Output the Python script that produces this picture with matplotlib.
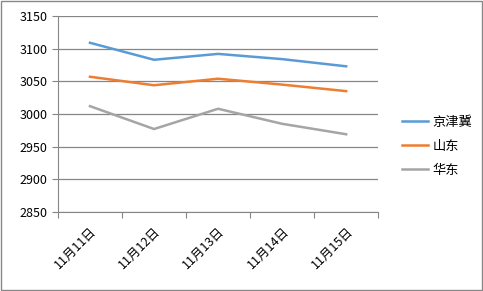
import matplotlib.pyplot as plt
from matplotlib.ticker import FixedLocator

plt.rcParams['font.family'] = ['Noto Sans CJK SC', 'DejaVu Sans']

dates = ["11月11日", "11月12日", "11月13日", "11月14日", "11月15日"]
jjj = [3109, 3083, 3092, 3084, 3073]
shandong = [3057, 3044, 3054, 3045, 3035]
huadong = [3012, 2977, 3008, 2985, 2969]
series_names = ["京津冀", "山东", "华东"]
colors = ["#5B9BD5", "#ED7D31", "#A5A5A5"]

fig = plt.figure(figsize=(4.83, 2.91), dpi=100)
ax = fig.add_axes([0.120, 0.2715, 0.663, 0.6735])

x = range(len(dates))
for vals, name, c in zip([jjj, shandong, huadong], series_names, colors):
    ax.plot(x, vals, color=c, lw=1.8, label=name)

ax.set_xlim(-0.5, len(dates) - 0.5)
ax.set_ylim(2850, 3150)
ax.set_yticks(range(2850, 3151, 50))
ax.yaxis.grid(True, color="#868686", lw=0.9)
ax.set_axisbelow(True)

# category boundaries as major ticks, labels on minor ticks at centers
ax.xaxis.set_major_locator(FixedLocator([i - 0.5 for i in range(len(dates) + 1)]))
ax.xaxis.set_major_formatter(plt.NullFormatter())
ax.xaxis.set_minor_locator(FixedLocator(list(x)))
ax.set_xticklabels(dates, minor=True, rotation=45, ha="right", rotation_mode="anchor", fontsize=9)
ax.tick_params(axis="x", which="major", length=4, color="#868686")
ax.tick_params(axis="x", which="minor", length=0, pad=9)
ax.tick_params(axis="y", length=4, color="#868686", labelsize=9)

for s in ["top", "right"]:
    ax.spines[s].set_visible(False)
for s in ["left", "bottom"]:
    ax.spines[s].set_color("#868686")

leg = ax.legend(loc="center left", bbox_to_anchor=(0.807, 0.497), bbox_transform=fig.transFigure,
                frameon=False, fontsize=9.5, handlelength=2.0, handletextpad=0.35, labelspacing=0.85)

fig.patches.append(plt.Rectangle((0.002, 0.003), 0.996, 0.994, transform=fig.transFigure,
                                 fill=False, edgecolor="#888888", lw=1))

fig.savefig("out.png", dpi=100)
